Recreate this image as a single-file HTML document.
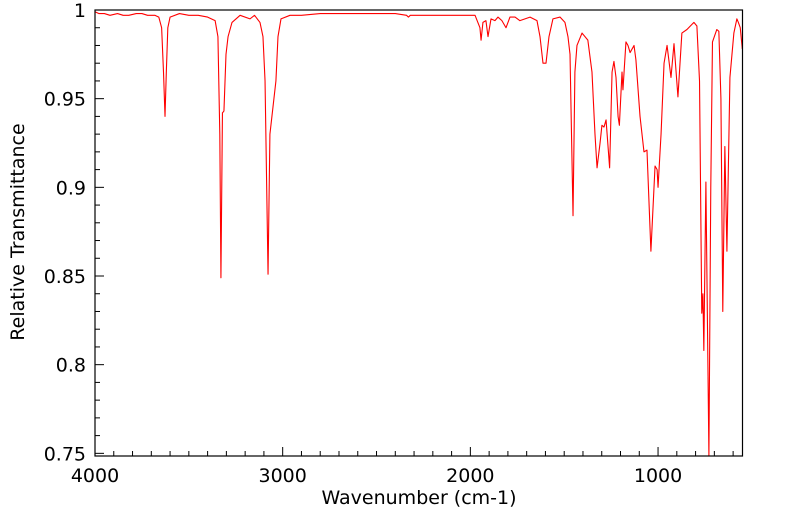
<!DOCTYPE html>
<html><head><meta charset="utf-8"><style>
html,body{margin:0;padding:0;background:#fff;}
svg{display:block;font-family:"DejaVu Sans","Liberation Sans",sans-serif;}
</style></head><body>
<svg id="chart" width="799" height="516" viewBox="0 0 799 516">
<g id="axes"></g>
<path id="trace" fill="none" stroke="#ff0000" stroke-width="1.1" stroke-linejoin="round"></path>
<rect x="95" y="10" width="647.5" height="446" fill="none" stroke="#000" stroke-width="1.2"></rect>
<text x="419" y="504" font-size="19" text-anchor="middle">Wavenumber (cm-1)</text>
<text transform="translate(24,232) rotate(-90)" font-size="19" text-anchor="middle">Relative Transmittance</text>
</svg>
<script>
const wavenumbers = [4000,3980,3950,3920,3880,3850,3820,3780,3750,3720,3680,3660,3645,3635,3627,3620,3612,3600,3550,3500,3450,3400,3360,3345,3335,3329,3321,3313,3302,3291,3270,3227,3174,3150,3121,3105,3094,3078,3068,3052,3036,3025,3009,2961,2900,2800,2700,2600,2500,2400,2340,2330,2320,2200,2100,2000,1975,1949,1943,1933,1917,1906,1890,1869,1853,1832,1810,1789,1762,1736,1709,1682,1645,1629,1613,1597,1581,1560,1522,1496,1480,1469,1453,1443,1432,1405,1374,1352,1336,1325,1309,1299,1288,1277,1258,1245,1235,1224,1213,1206,1192,1187,1171,1160,1149,1128,1118,1096,1075,1059,1038,1016,1005,1000,984,968,952,931,915,894,873,846,809,793,779,767,761,756,745,729,719,710,687,676,665,655,644,633,617,596,580,572,562,551];
const transmittance = [0.999,0.998,0.998,0.997,0.998,0.997,0.997,0.998,0.998,0.997,0.997,0.996,0.990,0.965,0.940,0.965,0.990,0.996,0.998,0.997,0.997,0.996,0.994,0.985,0.930,0.849,0.942,0.943,0.975,0.985,0.993,0.997,0.995,0.997,0.993,0.985,0.960,0.851,0.930,0.945,0.960,0.985,0.995,0.997,0.997,0.998,0.998,0.998,0.998,0.998,0.997,0.996,0.997,0.997,0.997,0.997,0.997,0.990,0.983,0.993,0.994,0.985,0.995,0.994,0.996,0.994,0.990,0.996,0.996,0.994,0.995,0.996,0.994,0.985,0.970,0.970,0.985,0.995,0.996,0.993,0.985,0.975,0.884,0.965,0.980,0.987,0.983,0.965,0.930,0.911,0.925,0.935,0.934,0.938,0.911,0.965,0.971,0.962,0.940,0.935,0.965,0.955,0.982,0.980,0.976,0.980,0.972,0.940,0.920,0.921,0.864,0.912,0.910,0.900,0.930,0.970,0.980,0.962,0.981,0.951,0.987,0.989,0.993,0.991,0.960,0.829,0.840,0.808,0.903,0.745,0.900,0.982,0.989,0.988,0.950,0.830,0.923,0.864,0.962,0.987,0.995,0.993,0.990,0.978];
const xTickLabels = ["4000","3000","2000","1000"];
const yTickLabels = ["1","0.95","0.9","0.85","0.8","0.75"];

const L=95,R=742.5,T=10,B=456;
const X0=4000,X1=550,Y0=0.7485,Y1=1.0;
function xs(v){return L+(X0-v)/(X0-X1)*(R-L);}
function ys(v){return B-(v-Y0)/(Y1-Y0)*(B-T);}
const NS="http://www.w3.org/2000/svg";
const axes=document.getElementById('axes');
function line(x1,y1,x2,y2,name){const l=document.createElementNS(NS,'line');
l.setAttribute('x1',x1);l.setAttribute('y1',y1);l.setAttribute('x2',x2);l.setAttribute('y2',y2);
l.setAttribute('stroke','#000');l.setAttribute('stroke-width','1');


axes.appendChild(l);}
function text(x,y,s,anchor,name){const t=document.createElementNS(NS,'text');
t.setAttribute('x',x);t.setAttribute('y',y);t.setAttribute('font-size','19');t.setAttribute('text-anchor',anchor);t.textContent=s;


axes.appendChild(t);}
for(let w=4000;w>=600;w-=100){const x=xs(w);const major=w%1000===0;line(x,B,x,B-(major?9:5),major?'x-major-tick':'x-minor-tick');}
xTickLabels.forEach(s=>{text(xs(+s),B+26,s,'middle','x-tick-label');});
for(let i=0;i<=25;i++){const v=1-i*0.01;const y=ys(v);const major=i%5===0;line(L,y,L+(major?9:5),y,major?'y-major-tick':'y-minor-tick');}
yTickLabels.forEach(s=>{text(L-9,ys(+s)+7,s,'end','y-tick-label');});
let d='';
wavenumbers.forEach((w,i)=>{let yv=ys(transmittance[i]);if(yv>B)yv=B;d+=(i?'L':'M')+xs(w).toFixed(2)+','+yv.toFixed(2);});
document.getElementById('trace').setAttribute('d',d);
</script>
</body></html>
